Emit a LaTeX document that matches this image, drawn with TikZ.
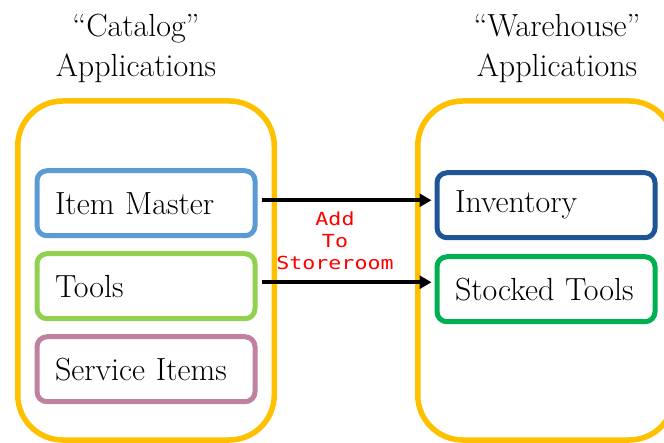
\documentclass[tikz,border=0pt]{standalone}
\usepackage{fontspec}
\usepackage{xcolor}
\usepackage{tikz}
\usetikzlibrary{arrows.meta,positioning,calc}
\newfontfamily\notefont[FakeStretch=1.2]{DejaVu Sans Mono}
\definecolor{pgold}{RGB}{255,192,0}
\definecolor{pitem}{RGB}{91,155,213}
\definecolor{ptool}{RGB}{146,208,80}
\definecolor{pserv}{RGB}{192,128,160}
\definecolor{pinv}{RGB}{30,85,150}
\definecolor{pstock}{RGB}{0,176,80}
\tikzset{
  appgroup/.style={rectangle,rounded corners=45pt,draw=pgold,line width=5.5pt,
                   minimum width=256.5pt,minimum height=339pt},
  appbox/.style={rectangle,rounded corners=10pt,line width=5pt,fill=white,
                 minimum width=218pt,minimum height=65pt,inner xsep=18pt,
                 text width=182pt,align=left,font=\fontsize{32}{38}\selectfont},
  heading/.style={align=center,inner sep=0pt,font=\fontsize{32}{40}\selectfont},
  flow/.style={-{Triangle[length=12pt,width=13pt]},line width=4.5pt,black},
  note/.style={align=center,inner sep=0pt,text=red,
               font=\notefont\fontsize{18}{22}\selectfont},
}

\begin{document}
\begin{tikzpicture}[x=1pt,y=1pt]
  \useasboundingbox (0,0) rectangle (664,-443);
  % the two application groups
  \node[appgroup] (catalog) at (146,-270.5) {};
  \node[appgroup,right=138pt of catalog] (warehouse) {};
  \node[heading,above=15pt of catalog,xshift=-10pt] (cattitle)
     {``Catalog''\\Applications};
  \node[heading,above=15pt of warehouse,xshift=11pt] (whtitle)
     {``Warehouse''\\Applications};
  % catalog side
  \node[appbox,draw=pitem,below=70pt of catalog.north] (itemmaster) {Item Master};
  \node[appbox,draw=ptool,below=13pt of itemmaster] (tools) {Tools};
  \node[appbox,draw=pserv,below=13pt of tools] (service) {Service Items};
  % warehouse side
  \node[appbox,draw=pinv,below=72pt of warehouse.north] (inventory) {Inventory};
  \node[appbox,draw=pstock,below=14pt of inventory] (stocked) {Stocked Tools};
  % add to storeroom
  \draw[flow] ([xshift=4pt,yshift=3pt]itemmaster.east)
     -- ([xshift=-3pt,yshift=3pt]itemmaster.east -| inventory.west);
  \draw[flow] ([xshift=4pt,yshift=4pt]tools.east)
     -- ([xshift=-3pt,yshift=4pt]tools.east -| stocked.west);
  \node[note] (addlbl) at ($(itemmaster.east)!.5!(stocked.west)+(-11pt,5pt)$)
     {Add\\To\\Storeroom};
\end{tikzpicture}
\end{document}
